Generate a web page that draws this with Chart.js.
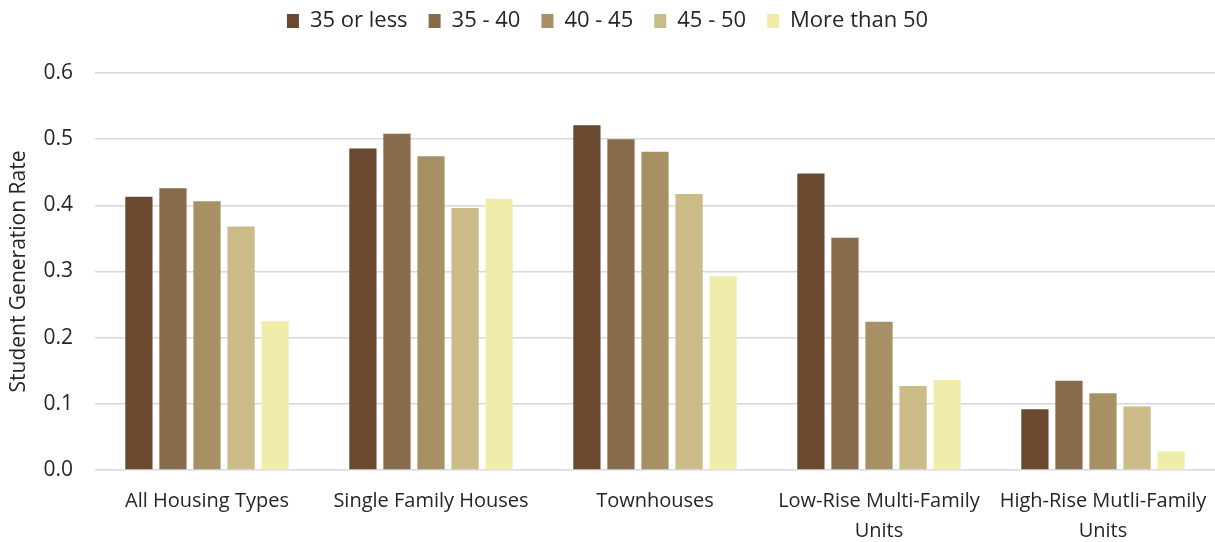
<!DOCTYPE html>
<html>
<head>
<meta charset="utf-8">
<script src="https://cdn.jsdelivr.net/npm/chart.js@4"></script>
<style>
  html, body { margin: 0; padding: 0; background: #fff; }
  #wrap { width: 1215px; height: 542px; }
</style>
</head>
<body>
<div id="wrap"><canvas id="sgrChart"></canvas></div>
<script>
// housing types (wrapped the same way as the source chart)
const categories = [
    ['All Housing Types'],
    ['Single Family Houses'],
    ['Townhouses'],
    ['Low-Rise Multi-Family', 'Units'],
    ['High-Rise Mutli-Family', 'Units']
];

// student generation rate per age-of-householder band
const age35OrLess = [0.413, 0.486, 0.521, 0.448, 0.092];
const age35to40   = [0.426, 0.508, 0.500, 0.351, 0.135];
const age40to45   = [0.406, 0.474, 0.481, 0.224, 0.116];
const age45to50   = [0.368, 0.396, 0.417, 0.127, 0.096];
const ageOver50   = [0.225, 0.410, 0.293, 0.136, 0.028];

const seriesLabels = ['35 or less', '35 - 40', '40 - 45', '45 - 50', 'More than 50'];
const seriesColors = ['#694a31', '#876c4b', '#a79164', '#c9bc87', '#f0edaa'];
const seriesValues = [age35OrLess, age35to40, age40to45, age45to50, ageOver50];

const yTicks = [0, 0.1, 0.2, 0.3, 0.4, 0.5, 0.6];

const font = "'Open Sans', 'Noto Sans', sans-serif";
const textColor = '#262626';

// extra room under the legend, so the plot starts lower like the original
const legendSpacer = {
    id: 'legendSpacer',
    beforeInit(chart) {
        const fit = chart.legend.fit;
        chart.legend.fit = function () {
            fit.call(this);
            this.height += 31;
        };
    }
};

const chartData = {
    labels: categories,
    datasets: seriesLabels.map((label, i) => ({
        label: label,
        data: seriesValues[i],
        backgroundColor: seriesColors[i],
        borderWidth: 0,
        barPercentage: 0.8,
        categoryPercentage: 0.76
    }))
};

new Chart(document.getElementById('sgrChart'), {
    type: 'bar',
    data: chartData,
    plugins: [legendSpacer],
    options: {
        responsive: true,
        maintainAspectRatio: false,
        animation: false,
        layout: { padding: { top: -11, right: 0, bottom: 0, left: 0 } },
        plugins: {
            legend: {
                position: 'top',
                labels: {
                    font: { family: font, size: 22 },
                    color: textColor,
                    boxWidth: 12,
                    boxHeight: 14,
                    padding: 21
                }
            },
            tooltip: { enabled: false }
        },
        scales: {
            x: {
                afterFit: axis => { axis.height = 72; },
                grid: { display: false },
                border: { display: false },
                ticks: {
                    font: { family: font, size: 20, lineHeight: 1.5 },
                    color: textColor,
                    padding: 8,
                    maxRotation: 0,
                    autoSkip: false
                }
            },
            y: {
                min: 0,
                max: 0.6,
                afterBuildTicks: axis => {
                    axis.ticks = yTicks.map(v => ({ value: v }));
                },
                afterFit: axis => { axis.width = 95; },
                grid: {
                    color: '#d9d9d9',
                    lineWidth: 1.5,
                    drawTicks: false
                },
                border: { display: false },
                ticks: {
                    font: { family: font, size: 21 },
                    color: textColor,
                    padding: 22,
                    callback: v => v.toFixed(1)
                },
                title: {
                    display: true,
                    text: 'Student Generation Rate',
                    font: { family: font, size: 21 },
                    color: textColor,
                    padding: { top: 6, bottom: 0 }
                }
            }
        }
    }
});
</script>
</body>
</html>
